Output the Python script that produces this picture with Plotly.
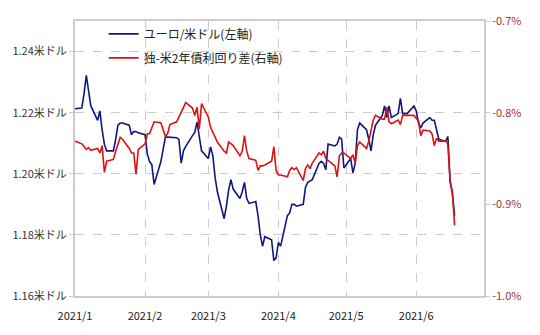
import pandas as pd
import plotly.graph_objects as go

# Business days, 2021-01-01 .. 2021-06-18
dates = pd.bdate_range("2021-01-01", "2021-06-18")

eurusd = [
    # Jan
    1.2213, 1.2215, 1.2262, 1.2322, 1.2272, 1.2222, 1.2175, 1.2206, 1.2144, 1.2097, 1.2075,
    1.2075, 1.2113, 1.2159, 1.2166, 1.2166, 1.2159, 1.2128, 1.2138, 1.2138, 1.2134,
    # Feb
    1.2128, 1.2065, 1.2040, 1.2030, 1.1965, 1.2040, 1.2085, 1.2120, 1.2120, 1.2120,
    1.2118, 1.2112, 1.2035, 1.2075, 1.2090, 1.2125, 1.2135, 1.2169, 1.2128, 1.2075,
    # Mar
    1.2050, 1.2088, 1.2059, 1.1988, 1.1941, 1.1853, 1.1894, 1.1947, 1.1981, 1.1950,
    1.1919, 1.1941, 1.1972, 1.1919, 1.1903, 1.1909, 1.1863, 1.1800, 1.1763, 1.1794,
    1.1784, 1.1716, 1.1725,
    # Apr
    1.1775, 1.1763, 1.1863, 1.1872, 1.1900, 1.1900, 1.1894, 1.1900, 1.1956, 1.1972, 1.1978,
    1.1981, 1.2034, 1.2041, 1.2034, 1.2013, 1.2097, 1.2091, 1.2097, 1.2119, 1.2113, 1.2019,
    # May
    1.2050, 1.2003, 1.2034, 1.2144, 1.2166, 1.2144, 1.2113, 1.2075, 1.2128, 1.2159, 1.2191,
    1.2222, 1.2184, 1.2222, 1.2184, 1.2197, 1.2247, 1.2197, 1.2197, 1.2197, 1.2222,
    # Jun
    1.2206, 1.2166, 1.2150, 1.2166, 1.2184, 1.2175, 1.2175, 1.2144, 1.2113, 1.2106,
    1.2122, 1.1978, 1.1934, 1.1863,
]

spread = [
    # Jan
    -0.831, -0.834, -0.837, -0.840, -0.838, -0.841, -0.839, -0.844, -0.836, -0.865, -0.853,
    -0.851, -0.842, -0.834, -0.827, -0.829, -0.839, -0.844, -0.844, -0.867, -0.840,
    # Feb
    -0.834, -0.823, -0.823, -0.816, -0.810, -0.811, -0.820, -0.826, -0.823, -0.813,
    -0.810, -0.805, -0.799, -0.794, -0.789, -0.795, -0.803, -0.794, -0.818, -0.790,
    # Mar
    -0.805, -0.816, -0.821, -0.827, -0.832, -0.842, -0.844, -0.832, -0.834, -0.836,
    -0.847, -0.842, -0.825, -0.842, -0.850, -0.852, -0.863, -0.858, -0.858, -0.857,
    -0.853, -0.837, -0.863,
    # Apr
    -0.868, -0.868, -0.870, -0.863, -0.860, -0.862, -0.860, -0.874, -0.861, -0.857, -0.861,
    -0.855, -0.844, -0.846, -0.842, -0.850, -0.852, -0.858, -0.870, -0.847, -0.844, -0.844,
    # May
    -0.850, -0.846, -0.855, -0.836, -0.832, -0.839, -0.831, -0.818, -0.808, -0.803, -0.807,
    -0.807, -0.794, -0.810, -0.812, -0.808, -0.813, -0.803, -0.803, -0.803, -0.803,
    # Jun
    -0.806, -0.809, -0.825, -0.819, -0.820, -0.823, -0.836, -0.828, -0.831, -0.831,
    -0.834, -0.876, -0.886, -0.923,
]

left_ticks = [1.16, 1.18, 1.20, 1.22, 1.24]
left_labels = ["1.16米ドル", "1.18米ドル", "1.20米ドル", "1.22米ドル", "1.24米ドル"]
right_ticks = [-1.0, -0.9, -0.8, -0.7]
right_labels = ["-1.0%", "-0.9%", "-0.8%", "-0.7%"]
month_ticks = ["2021-01-01", "2021-02-01", "2021-03-01", "2021-04-01", "2021-05-01", "2021-06-01"]
month_labels = ["2021/1", "2021/2", "2021/3", "2021/4", "2021/5", "2021/6"]

series_names = ["ユーロ/米ドル(左軸)", "独-米2年債利回り差(右軸)"]

FONT = "Noto Sans CJK JP"

fig = go.Figure()
fig.add_trace(go.Scatter(x=dates, y=eurusd, mode="lines", name=series_names[0],
                         line=dict(color="#101880", width=1.6), legendgroup="a"))
fig.add_trace(go.Scatter(x=dates, y=spread, mode="lines", name=series_names[1],
                         line=dict(color="#e01010", width=1.6), yaxis="y2", legendgroup="b"))

grid = "#cccccc"
fig.update_layout(
    width=540, height=335,
    margin=dict(l=66, r=56, t=12, b=36),
    paper_bgcolor="white", plot_bgcolor="white",
    font=dict(family=FONT, size=11, color="#333333"),
    showlegend=True,
    legend=dict(x=0.07, y=1.006, xanchor="left", yanchor="top",
                bgcolor="rgba(0,0,0,0)", font=dict(size=12, color="#222222"),
                tracegroupgap=5, itemwidth=30),
    xaxis=dict(
        range=["2021-01-01", "2021-07-01"], tickvals=month_ticks, ticktext=month_labels,
        showgrid=True, gridcolor=grid, griddash="dash", gridwidth=1,
        showline=True, linecolor="#cccccc", linewidth=2, mirror=True,
        ticks="", zeroline=False, tickfont=dict(size=11, color="#222222"),
        ticklabelstandoff=9,
    ),
    yaxis=dict(
        range=[1.16, 1.25], tickvals=left_ticks, ticktext=left_labels,
        showgrid=True, gridcolor=grid, griddash="dash", gridwidth=1,
        showline=True, linecolor="#cccccc", linewidth=2,
        ticks="outside", ticklen=4, tickcolor="#cccccc", zeroline=False,
        tickfont=dict(size=11, color="#333333"),
    ),
    yaxis2=dict(
        range=[-1.0, -0.7], tickvals=right_ticks, ticktext=right_labels,
        overlaying="y", side="right", showgrid=False,
        showline=True, linecolor="#cccccc", linewidth=2,
        ticks="outside", ticklen=4, tickcolor="#cccccc", zeroline=False,
        tickfont=dict(size=11, color="#a83232"),
    ),
)

fig.write_html("out.html")
